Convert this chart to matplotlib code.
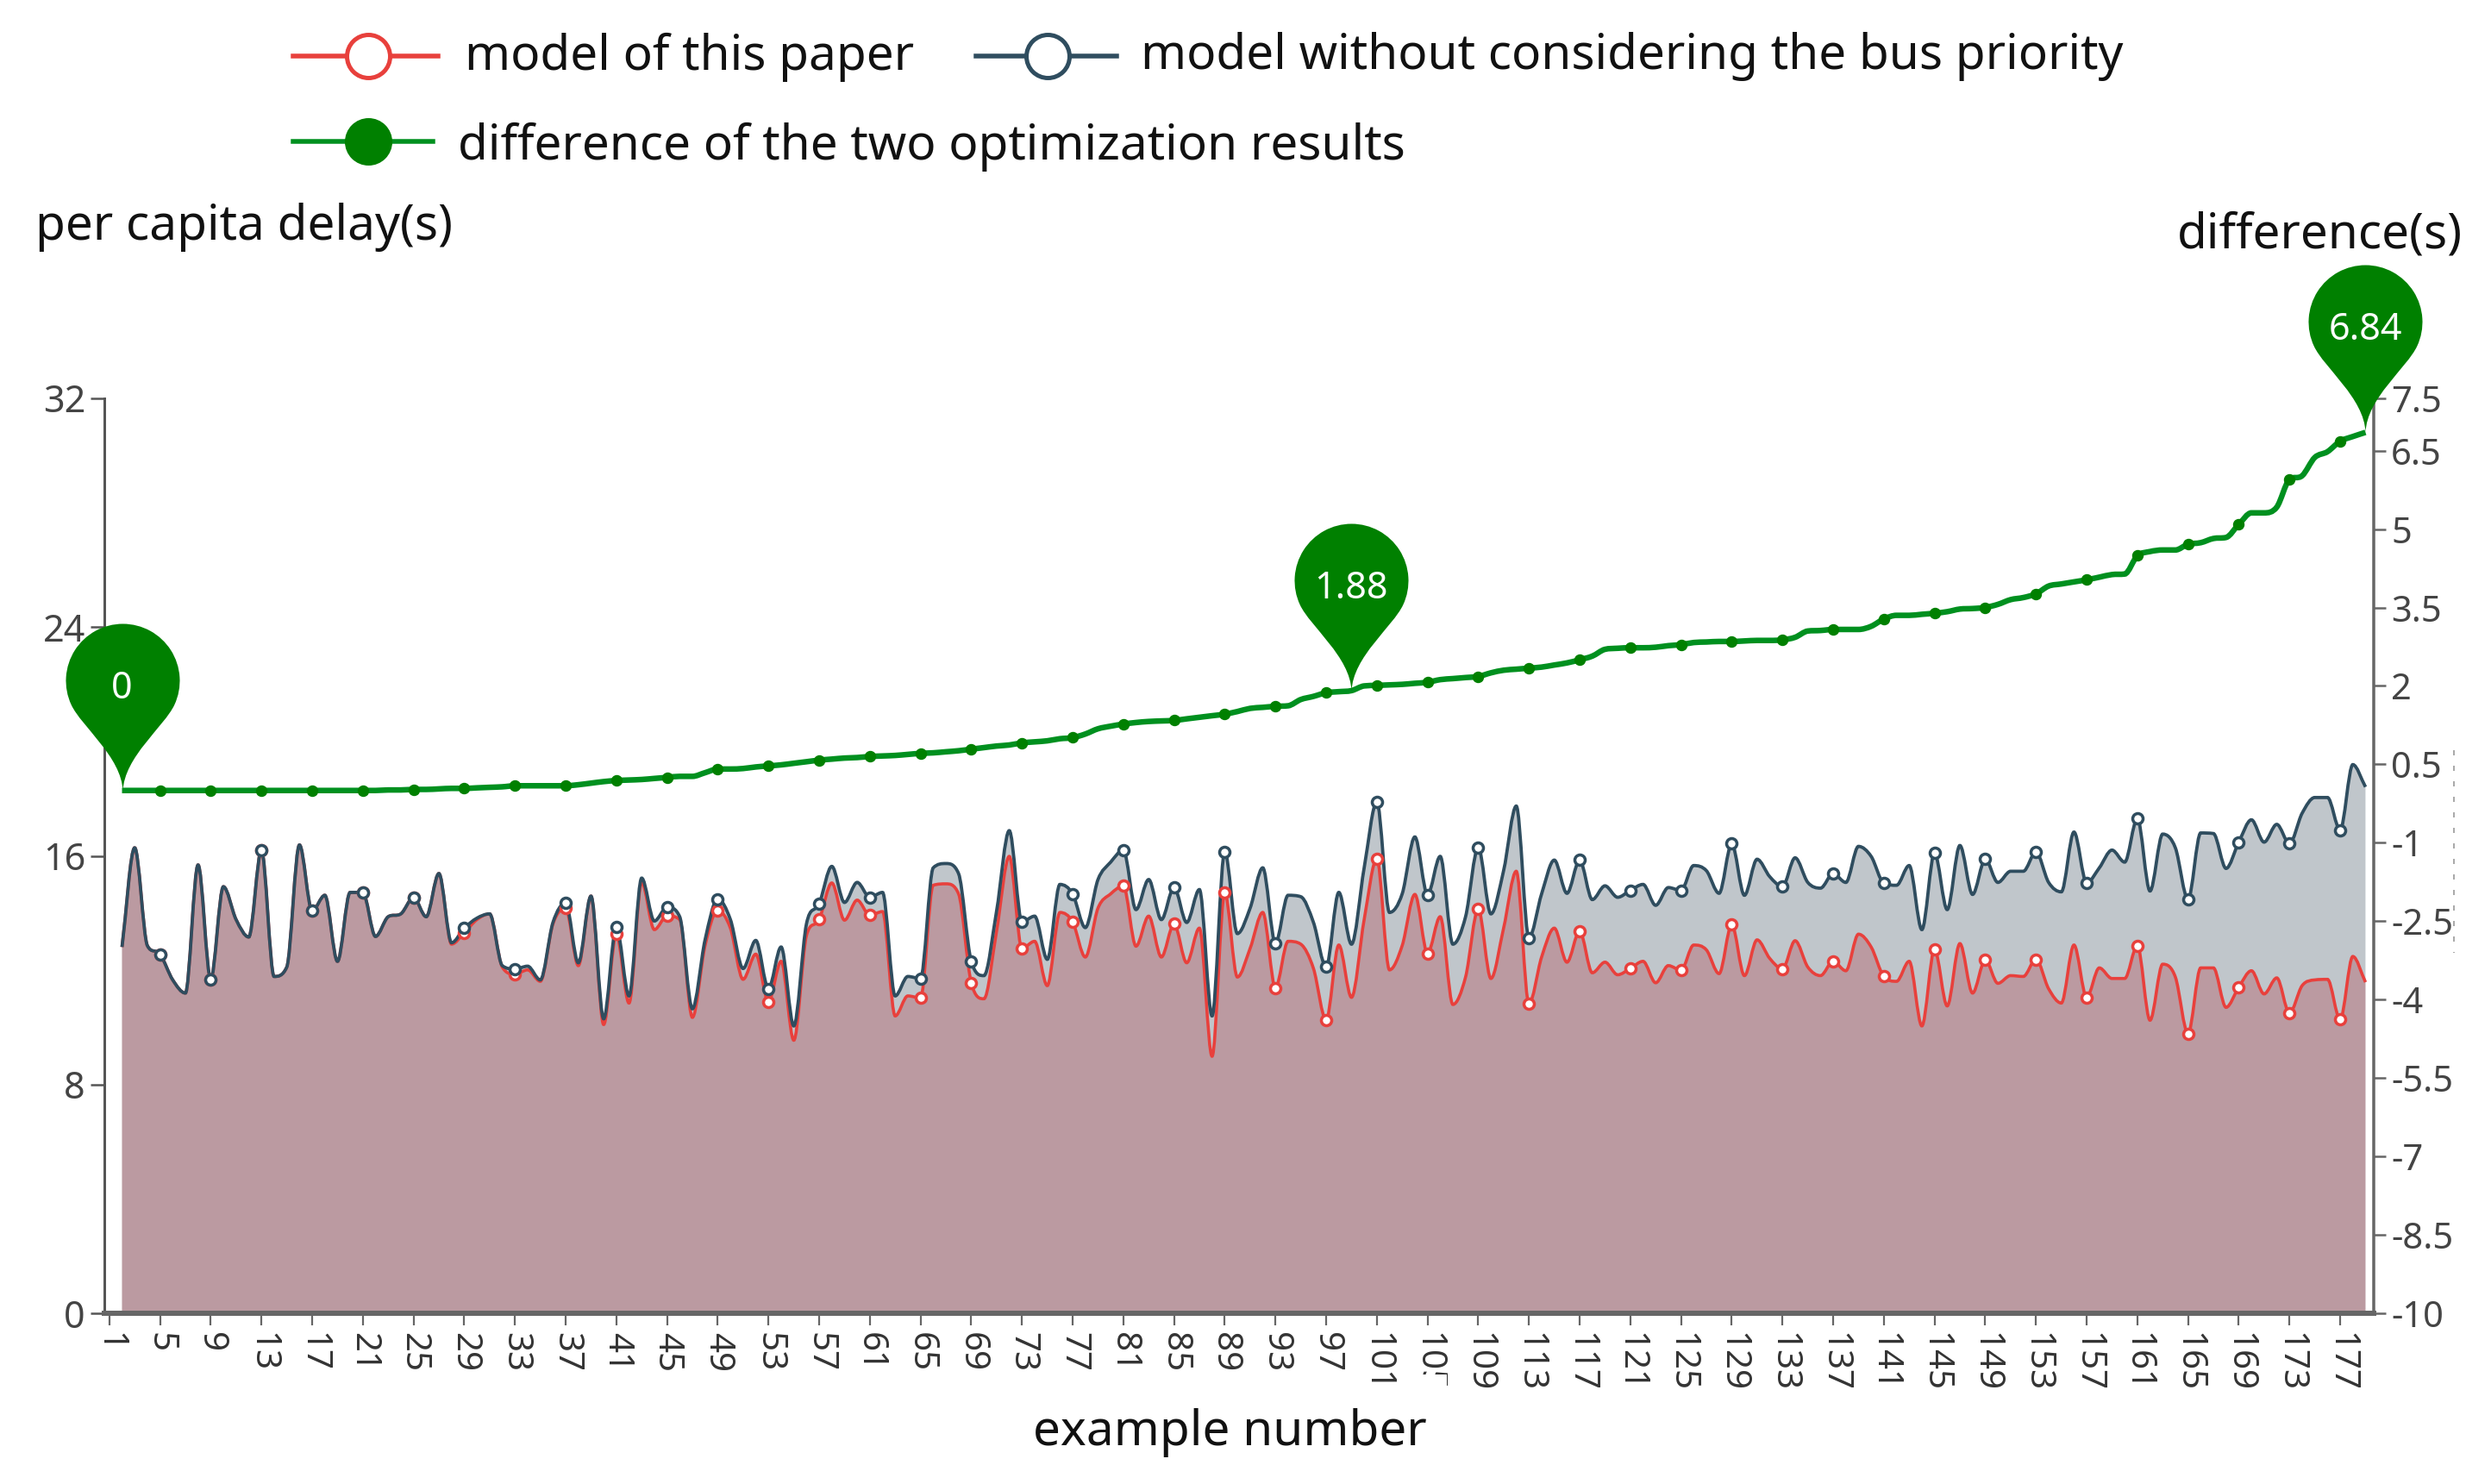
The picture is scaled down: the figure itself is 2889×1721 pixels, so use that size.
import numpy as np
import matplotlib
matplotlib.use("Agg")
import matplotlib.pyplot as plt
from matplotlib.lines import Line2D
from matplotlib.patches import PathPatch, Rectangle
from matplotlib.path import Path

plt.rcParams["font.family"] = ["Noto Sans", "DejaVu Sans"]

W, H = 2889, 1721
LEFT, RIGHT, TOP, BOTTOM = 121, 2753, 462, 1523

example_number = list(range(2, 180))
x_tick_labels = list(range(1, 178, 4))
marker_numbers = list(range(5, 178, 4))

delay_ticks = [0, 8, 16, 24, 32]
difference_ticks = [-10, -8.5, -7, -5.5, -4, -2.5, -1, 0.5, 2, 3.5, 5, 6.5, 7.5]

without_priority = [
    12.81, 16.28, 12.86, 12.56, 11.66, 11.20, 15.68, 11.68, 14.92, 13.77,
    13.16, 16.20, 11.78, 12.11, 16.38, 14.07, 14.62, 12.31, 14.72, 14.72,
    13.18, 13.87, 13.97, 14.54, 13.87, 15.38, 12.96, 13.47, 13.82, 13.97,
    12.16, 12.04, 12.14, 11.66, 13.67, 14.35, 12.26, 14.59, 10.30, 13.52,
    11.10, 15.22, 13.72, 14.20, 13.87, 10.65, 13.06, 14.49, 13.77, 12.06,
    13.04, 11.35, 12.81, 10.05, 13.62, 14.32, 15.63, 14.37, 15.07, 14.55,
    14.72, 11.10, 11.78, 11.71, 15.58, 15.73, 15.38, 12.31, 11.81, 14.07,
    16.88, 13.69, 13.89, 12.38, 15.00, 14.67, 13.49, 15.17, 15.78, 16.20,
    14.12, 15.17, 13.77, 14.90, 13.67, 14.82, 10.40, 16.15, 13.28, 14.17,
    15.58, 12.94, 14.62, 14.57, 13.67, 12.11, 14.72, 12.91, 15.58, 17.89,
    14.02, 14.67, 16.66, 14.64, 15.98, 12.91, 13.87, 16.30, 13.97, 15.48,
    17.74, 13.13, 14.67, 15.85, 14.69, 15.85, 14.47, 14.95, 14.55, 14.79,
    15.00, 14.27, 14.89, 14.79, 15.66, 15.48, 14.69, 16.43, 14.62, 15.88,
    15.27, 14.92, 15.93, 15.07, 14.87, 15.38, 15.07, 16.33, 15.98, 15.04,
    14.97, 15.66, 13.42, 16.10, 14.12, 16.36, 14.65, 15.88, 15.07, 15.46,
    15.46, 16.13, 15.07, 14.74, 16.83, 15.05, 15.58, 16.20, 15.78, 17.31,
    14.77, 16.76, 16.28, 14.47, 16.80, 16.78, 15.56, 16.48, 17.26, 16.48,
    17.10, 16.43, 17.49, 18.04, 18.04, 16.90, 19.19, 18.41,
]

this_paper = [
    12.81, 16.28, 12.86, 12.56, 11.66, 11.20, 15.68, 11.68, 14.92, 13.77,
    13.16, 16.20, 11.78, 12.11, 16.38, 14.07, 14.62, 12.31, 14.72, 14.72,
    13.18, 13.87, 13.97, 14.54, 13.87, 15.38, 12.91, 13.31, 13.77, 13.97,
    12.11, 11.86, 12.01, 11.61, 13.62, 14.17, 12.16, 14.59, 10.10, 13.26,
    10.85, 15.07, 13.42, 13.90, 13.77, 10.35, 12.86, 14.09, 13.47, 11.68,
    12.56, 10.90, 12.31, 9.55, 13.21, 13.77, 15.05, 13.75, 14.45, 13.92,
    14.05, 10.40, 11.10, 11.03, 14.97, 15.02, 14.67, 11.56, 11.00, 13.37,
    15.98, 12.76, 13.01, 11.46, 14.02, 13.69, 12.46, 14.17, 14.67, 14.95,
    12.84, 13.89, 12.46, 13.62, 12.26, 13.47, 8.99, 14.72, 11.76, 12.76,
    14.02, 11.38, 13.01, 12.91, 12.06, 10.25, 12.88, 11.05, 13.77, 15.90,
    12.01, 12.86, 14.65, 12.59, 13.87, 10.80, 11.76, 14.14, 11.71, 13.47,
    15.46, 10.82, 12.46, 13.47, 12.28, 13.37, 11.91, 12.28, 11.84, 12.06,
    12.31, 11.56, 12.16, 12.00, 12.88, 12.71, 11.88, 13.60, 11.81, 13.06,
    12.41, 12.04, 13.03, 12.11, 11.81, 12.31, 11.98, 13.26, 12.81, 11.78,
    11.61, 12.31, 10.05, 12.73, 10.75, 12.93, 11.20, 12.36, 11.54, 11.81,
    11.78, 12.38, 11.35, 10.85, 12.88, 11.05, 12.08, 11.71, 11.71, 12.86,
    10.25, 12.21, 11.76, 9.78, 12.08, 12.08, 10.70, 11.41, 11.98, 11.17,
    11.73, 10.50, 11.46, 11.66, 11.68, 10.27, 12.48, 11.58,
]

difference = [
    0.00, 0.00, 0.00, 0.00, 0.00, 0.00, 0.00, 0.00, 0.00, 0.00,
    0.00, 0.00, 0.00, 0.00, 0.00, 0.00, 0.00, 0.00, 0.00, 0.00,
    0.00, 0.01, 0.01, 0.02, 0.02, 0.03, 0.04, 0.04, 0.05, 0.06,
    0.07, 0.09, 0.09, 0.09, 0.09, 0.09, 0.11, 0.14, 0.17, 0.19,
    0.20, 0.21, 0.23, 0.25, 0.27, 0.27, 0.34, 0.41, 0.41, 0.42,
    0.45, 0.47, 0.49, 0.52, 0.55, 0.58, 0.60, 0.62, 0.63, 0.65,
    0.66, 0.67, 0.69, 0.71, 0.72, 0.74, 0.76, 0.79, 0.82, 0.85,
    0.87, 0.91, 0.93, 0.95, 0.99, 1.01, 1.08, 1.18, 1.23, 1.27,
    1.30, 1.32, 1.33, 1.34, 1.37, 1.40, 1.43, 1.46, 1.51, 1.57,
    1.59, 1.61, 1.62, 1.74, 1.80, 1.87, 1.89, 1.91, 2.00, 2.01,
    2.02, 2.03, 2.05, 2.07, 2.12, 2.14, 2.16, 2.18, 2.25, 2.30,
    2.32, 2.34, 2.36, 2.40, 2.44, 2.50, 2.57, 2.70, 2.72, 2.73,
    2.73, 2.74, 2.77, 2.79, 2.83, 2.84, 2.85, 2.85, 2.86, 2.87,
    2.87, 2.88, 2.93, 3.05, 3.06, 3.08, 3.08, 3.08, 3.14, 3.28,
    3.35, 3.35, 3.37, 3.39, 3.42, 3.47, 3.48, 3.50, 3.56, 3.65,
    3.69, 3.76, 3.91, 3.95, 3.99, 4.03, 4.08, 4.13, 4.14, 4.49,
    4.57, 4.60, 4.60, 4.71, 4.74, 4.82, 4.84, 5.09, 5.31, 5.31,
    5.42, 5.95, 6.02, 6.37, 6.48, 6.68, 6.77, 6.85,
]

pin_numbers = [2, 99, 179]
pin_values = [0.00, 1.91, 6.85]
pin_labels = ["0", "1.88", "6.84"]

RED = "#e8403c"
BLUE = "#2f4d5f"
GREEN = "#00901f"
PIN_GREEN = "#008000"
TEXT_SIZE = 40.8


def px(v):
    return v * 72 / 100


def smooth_path(x, y, base=None):
    """Cubic path through the points, flat at local peaks like the echarts smooth line."""
    x = np.asarray(x, dtype=float)
    y = np.asarray(y, dtype=float)
    d = np.diff(y)
    slopes = np.gradient(y, x)
    for i in range(1, len(y) - 1):
        if d[i - 1] * d[i] <= 0:
            slopes[i] = 0
        else:
            limit = 3 * min(abs(d[i - 1]), abs(d[i]))
            slopes[i] = np.clip(slopes[i], -limit, limit)

    verts = [(x[0], y[0])]
    codes = [Path.MOVETO]
    for i in range(len(x) - 1):
        dx = x[i + 1] - x[i]
        verts += [
            (x[i] + dx / 3, y[i] + slopes[i] * dx / 3),
            (x[i + 1] - dx / 3, y[i + 1] - slopes[i + 1] * dx / 3),
            (x[i + 1], y[i + 1]),
        ]
        codes += [Path.CURVE4] * 3
    if base is not None:
        verts += [(x[-1], base), (x[0], base), (x[0], y[0])]
        codes += [Path.LINETO, Path.LINETO, Path.CLOSEPOLY]
    return Path(verts, codes)


def pin_marker():
    # teardrop with its tip at (0, 0), sizes in px of the reference
    r = 66
    h = 128
    a = np.radians(-25)
    px_, py_ = r * np.cos(a), h + r * np.sin(a)
    tx, ty = -np.sin(a), np.cos(a)
    verts = [(0, 0), (1.5, 40), (px_ - 28 * tx, py_ - 28 * ty), (px_, py_)]
    codes = [Path.MOVETO, Path.CURVE4, Path.CURVE4, Path.CURVE4]
    arc = Path.arc(-25, 205)
    verts += [(vx * r, vy * r + h) for vx, vy in arc.vertices[1:]]
    codes += list(arc.codes[1:])
    verts += [(-px_ + 28 * tx, py_ - 28 * ty), (-1.5, 40), (0, 0), (0, 0)]
    codes += [Path.CURVE4, Path.CURVE4, Path.CURVE4, Path.CLOSEPOLY]
    return Path(verts, codes)


def fig_x(v):
    return v / W


def fig_y(v):
    return 1 - v / H


def main() -> None:
    fig = plt.figure(figsize=(W / 100, H / 100), dpi=100)
    ax = fig.add_axes(
        [fig_x(LEFT), fig_y(BOTTOM), (RIGHT - LEFT) / W, (BOTTOM - TOP) / H]
    )
    ax2 = ax.twinx()
    ax.patch.set_visible(False)

    ax.set_xlim(0.605, 179.65)
    ax.set_ylim(0, 32)
    ax2.set_ylim(-10, 7.5)

    # Areas and smooth lines
    ax.add_patch(
        PathPatch(
            smooth_path(example_number, without_priority, base=0),
            facecolor="#2f4554",
            edgecolor="none",
            alpha=0.3,
        )
    )
    ax.add_patch(
        PathPatch(
            smooth_path(example_number, this_paper, base=0),
            facecolor="#b23541",
            edgecolor="none",
            alpha=0.3,
        )
    )
    ax.add_patch(
        PathPatch(
            smooth_path(example_number, this_paper),
            facecolor="none",
            edgecolor=RED,
            linewidth=px(3.6),
            zorder=3,
        )
    )
    ax.add_patch(
        PathPatch(
            smooth_path(example_number, without_priority),
            facecolor="none",
            edgecolor=BLUE,
            linewidth=px(3.8),
            zorder=3,
        )
    )

    marker_idx = [n - example_number[0] for n in marker_numbers]
    ax.plot(
        marker_numbers,
        [this_paper[i] for i in marker_idx],
        linestyle="none",
        marker="o",
        markersize=px(12),
        markerfacecolor="white",
        markeredgecolor=RED,
        markeredgewidth=px(3.5),
        zorder=4,
    )
    ax.plot(
        marker_numbers,
        [without_priority[i] for i in marker_idx],
        linestyle="none",
        marker="o",
        markersize=px(12),
        markerfacecolor="white",
        markeredgecolor=BLUE,
        markeredgewidth=px(3.5),
        zorder=4,
    )

    # Difference line on the right axis
    ax2.add_patch(
        PathPatch(
            smooth_path(example_number, difference),
            facecolor="none",
            edgecolor=GREEN,
            linewidth=px(6.5),
            zorder=3,
        )
    )
    ax2.plot(
        marker_numbers,
        [difference[i] for i in marker_idx],
        linestyle="none",
        marker="o",
        markersize=px(12),
        color=PIN_GREEN,
        zorder=4,
    )
    ax2.plot(
        pin_numbers,
        pin_values,
        linestyle="none",
        marker=pin_marker(),
        markersize=px(2 * 194),
        markerfacecolor=PIN_GREEN,
        markeredgecolor="none",
        clip_on=False,
        zorder=5,
    )
    for n, v, label in zip(pin_numbers, pin_values, pin_labels):
        ax2.annotate(
            label,
            xy=(n, v),
            xytext=(0, px(118)),
            textcoords="offset points",
            ha="center",
            va="center",
            color="white",
            fontsize=31,
            zorder=6,
        )

    # Axes
    for side in ("top",):
        ax.spines[side].set_visible(False)
        ax2.spines[side].set_visible(False)
    ax2.spines["left"].set_visible(False)
    ax2.spines["bottom"].set_visible(False)
    ax.spines["right"].set_visible(False)
    ax.spines["left"].set_color("#555555")
    ax.spines["left"].set_linewidth(px(3))
    ax2.spines["right"].set_color("#666666")
    ax2.spines["right"].set_linewidth(px(3.5))
    ax.spines["bottom"].set_color("#666666")
    ax.spines["bottom"].set_linewidth(px(6))

    ax.set_yticks(delay_ticks)
    ax.tick_params(
        axis="y", length=px(16), width=px(2.5), color="#555555",
        labelsize=31, labelcolor="#444444", pad=px(6),
    )
    ax2.set_yticks(difference_ticks)
    ax2.set_yticklabels([f"{t:g}" for t in difference_ticks])
    ax2.tick_params(
        axis="y", length=px(14), width=px(2.5), color="#666666",
        labelsize=30, labelcolor="#444444", pad=px(6),
    )
    ax.set_xticks(x_tick_labels)
    ax.set_xticklabels(x_tick_labels, rotation=-90, ha="center", va="top")
    ax.tick_params(
        axis="x", length=px(14), width=px(2.2), color="#666666",
        labelsize=29, labelcolor="#333333", pad=px(8),
    )

    # Last digit of the 105 label is cut off in the source chart
    fig.add_artist(
        Rectangle(
            (fig_x(1638), fig_y(1618)), 40 / W, 24 / H,
            transform=fig.transFigure, facecolor="white", edgecolor="none",
        )
    )

    # Titles
    fig.text(fig_x(41), fig_y(264), "per capita delay(s)", fontsize=TEXT_SIZE, va="center", color="#111111")
    fig.text(fig_x(2856), fig_y(273), "difference(s)", fontsize=TEXT_SIZE, va="center", ha="right", color="#111111")
    fig.text(fig_x(1426), fig_y(1662), "example number", fontsize=TEXT_SIZE, va="center", ha="center", color="#111111")

    # Legend drawn by hand to keep its two row layout
    legend_rows = [
        (340, 508, 427, 65, 66, RED, "white", 539, "model of this paper"),
        (1132, 1295, 1215, 65, 66, BLUE, "white", 1323, "model without considering the bus priority"),
        (340, 502, 427, 164, 170, GREEN, PIN_GREEN, 531, "difference of the two optimization results"),
    ]
    for x0, x1, xm, yc, yt, color, face, xt, label in legend_rows:
        edge = PIN_GREEN if face != "white" else color
        fig.add_artist(
            Line2D(
                [fig_x(x0), fig_x(x1)], [fig_y(yc), fig_y(yc)],
                color=color, linewidth=px(5.5),
            )
        )
        fig.add_artist(
            Line2D(
                [fig_x(xm)], [fig_y(yc)],
                marker="o", markersize=px(50), markerfacecolor=face,
                markeredgecolor=edge, markeredgewidth=px(5),
            )
        )
        fig.text(fig_x(xt), fig_y(yt), label, fontsize=TEXT_SIZE, va="center", color="#111111")

    # Faint scan mark right of the axis labels
    fig.add_artist(
        Line2D(
            [fig_x(2846), fig_x(2846)], [fig_y(870), fig_y(1105)],
            color="#aaaaaa", linewidth=px(2), linestyle=(0, (3, 6)),
        )
    )

    plt.savefig("out.png", dpi=100)


if __name__ == "__main__":
    main()
